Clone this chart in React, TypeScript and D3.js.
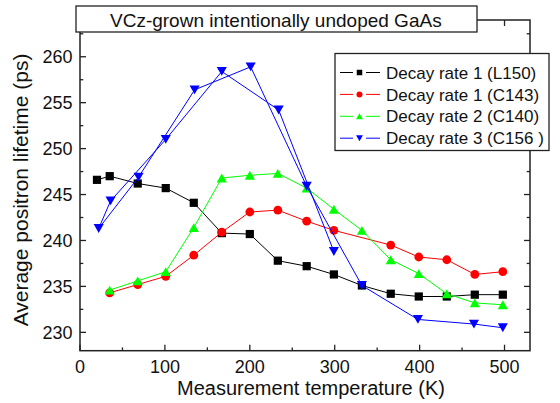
import React from "react";
import * as d3 from "d3";

const TITLE = "VCz-grown intentionally undoped GaAs";
const X_LABEL = "Measurement temperature (K)";
const Y_LABEL = "Average positron lifetime (ps)";

const X_TICKS = [0, 100, 200, 300, 400, 500];
const Y_TICKS = [230, 235, 240, 245, 250, 255, 260];

const T_L150 = [20, 35, 68, 101, 134, 167, 200, 233, 267, 299, 332, 366, 399, 432, 465, 498];
const V_L150 = [246.6, 247.0, 246.2, 245.7, 244.1, 240.8, 240.7, 237.8, 237.2, 236.3, 235.1, 234.2, 233.9, 233.9, 234.1, 234.1];

const T_C143 = [35, 68, 101, 134, 167, 200, 233, 267, 299, 366, 399, 432, 465, 498];
const V_C143 = [234.3, 235.2, 236.1, 238.4, 240.9, 243.1, 243.3, 242.1, 241.1, 239.5, 238.2, 237.9, 236.3, 236.6];

const T_C140 = [35, 68, 101, 134, 167, 200, 233, 267, 299, 332, 366, 399, 432, 465, 498];
const V_C140 = [234.6, 235.6, 236.6, 241.4, 246.8, 247.1, 247.3, 245.7, 243.4, 241.1, 237.9, 236.4, 234.2, 233.2, 233.0];

// measurement order as connected in the original
const T_C156 = [299, 234, 167, 101, 36, 22, 69, 135, 201, 267, 332, 398, 464, 498];
const V_C156 = [238.8, 254.2, 258.4, 251.0, 244.3, 241.3, 246.9, 256.4, 258.9, 245.9, 235.1, 231.4, 230.9, 230.5];

const LEGEND = ["Decay rate 1 (L150)", "Decay rate 1 (C143)", "Decay rate 2 (C140)", "Decay rate 3 (C156 )"];

const FONT = "'Liberation Sans', Arial, sans-serif";

type Series = { t: number[]; v: number[]; color: string; shape: string; label: string };

const SERIES: Series[] = [
  { t: T_L150, v: V_L150, color: "#000000", shape: "square", label: LEGEND[0] },
  { t: T_C143, v: V_C143, color: "#ff0000", shape: "circle", label: LEGEND[1] },
  { t: T_C140, v: V_C140, color: "#00ff00", shape: "up", label: LEGEND[2] },
  { t: T_C156, v: V_C156, color: "#0000ff", shape: "down", label: LEGEND[3] },
];

function Marker({ shape, x, y, color, s }: { shape: string; x: number; y: number; color: string; s: number }) {
  if (shape === "square") {
    return <rect x={x - s / 2} y={y - s / 2} width={s} height={s} fill={color} />;
  }
  if (shape === "circle") {
    return <circle cx={x} cy={y} r={s / 2} fill={color} />;
  }
  const w = s * 1.15;
  const h = s;
  if (shape === "up") {
    return <path d={`M${x},${y - h / 2}L${x + w / 2},${y + h / 2}L${x - w / 2},${y + h / 2}Z`} fill={color} />;
  }
  return <path d={`M${x},${y + h / 2}L${x + w / 2},${y - h / 2}L${x - w / 2},${y - h / 2}Z`} fill={color} />;
}

export default function App() {
  const W = 560, H = 403;
  const L = 80, R = 530, T = 20, B = 350.7;
  const x = d3.scaleLinear().domain([0, 530]).range([L, R]);
  const y = d3.scaleLinear().domain([228, 264]).range([B, T]);
  const line = d3.line<[number, number]>().x(d => x(d[0])).y(d => y(d[1]));

  const xMinor = d3.range(50, 530, 100);
  const yMinor = d3.range(232.5, 264, 5);
  const axisColor = "#222";
  const MAJ = 6, MIN = 3.3;

  const markerSize = (shape: string) => (shape === "circle" ? 8.8 : shape === "square" ? 8.2 : 8.8);
  const legendSize = (shape: string) => (shape === "circle" ? 6 : shape === "square" ? 5.5 : 6);

  return (
    <svg width={W} height={H} style={{ position: "absolute", left: 0, top: 0, background: "#fff" }}>
      <rect x={0} y={0} width={W} height={H} fill="#fff" />
      <rect x={L} y={T} width={R - L} height={B - T} fill="none" stroke={axisColor} strokeWidth={1.5} />
      {X_TICKS.map(t => (
        <g key={"xt" + t}>
          <line x1={x(t)} x2={x(t)} y1={B} y2={B - MAJ} stroke={axisColor} strokeWidth={1.3} />
          <line x1={x(t)} x2={x(t)} y1={T} y2={T + MAJ} stroke={axisColor} strokeWidth={1.3} />
          <text x={x(t)} y={373} textAnchor="middle" fontFamily={FONT} fontSize={18} fill="#111">{t}</text>
        </g>
      ))}
      {xMinor.map(t => (
        <g key={"xm" + t}>
          <line x1={x(t)} x2={x(t)} y1={B} y2={B - MIN} stroke={axisColor} strokeWidth={1.3} />
          <line x1={x(t)} x2={x(t)} y1={T} y2={T + MIN} stroke={axisColor} strokeWidth={1.3} />
        </g>
      ))}
      {Y_TICKS.map(t => (
        <g key={"yt" + t}>
          <line x1={L} x2={L + MAJ} y1={y(t)} y2={y(t)} stroke={axisColor} strokeWidth={1.3} />
          <line x1={R} x2={R - MAJ} y1={y(t)} y2={y(t)} stroke={axisColor} strokeWidth={1.3} />
          <text x={72.5} y={y(t)} dy="0.36em" textAnchor="end" fontFamily={FONT} fontSize={18} fill="#111">{t}</text>
        </g>
      ))}
      {yMinor.map(t => (
        <g key={"ym" + t}>
          <line x1={L} x2={L + MIN} y1={y(t)} y2={y(t)} stroke={axisColor} strokeWidth={1.3} />
          <line x1={R} x2={R - MIN} y1={y(t)} y2={y(t)} stroke={axisColor} strokeWidth={1.3} />
        </g>
      ))}
      {SERIES.map((s, i) => {
        const pts = s.t.map((t, j) => [t, s.v[j]] as [number, number]);
        return (
          <g key={"s" + i}>
            <path d={line(pts) || ""} fill="none" stroke={s.color} strokeWidth={1} />
            {pts.map((p, j) => (
              <Marker key={j} shape={s.shape} x={x(p[0])} y={y(p[1])} color={s.color} s={markerSize(s.shape)} />
            ))}
          </g>
        );
      })}
      <rect x={76} y={6} width={401} height={26} fill="#fff" stroke={axisColor} strokeWidth={1.3} />
      <text x={110} y={27.3} fontFamily={FONT} fontSize={19} fill="#111">{TITLE}</text>
      <rect x={335} y={53.5} width={214} height={97} fill="#fff" stroke={axisColor} strokeWidth={1.3} />
      {SERIES.map((s, i) => {
        const ly = 72.5 + i * 21.9;
        return (
          <g key={"lg" + i}>
            <line x1={340} x2={353} y1={ly} y2={ly} stroke={s.color} strokeWidth={1} />
            <line x1={366} x2={380} y1={ly} y2={ly} stroke={s.color} strokeWidth={1} />
            <Marker shape={s.shape} x={359.5} y={ly} color={s.color} s={legendSize(s.shape)} />
            <text x={386} y={ly} dy="0.36em" fontFamily={FONT} fontSize={17} fill="#111">{s.label}</text>
          </g>
        );
      })}
      <text x={311} y={395} textAnchor="middle" fontFamily={FONT} fontSize={20} fill="#111">{X_LABEL}</text>
      <text transform={`translate(27.5,190) rotate(-90)`} textAnchor="middle" fontFamily={FONT} fontSize={21} fill="#111">{Y_LABEL}</text>
    </svg>
  );
}
